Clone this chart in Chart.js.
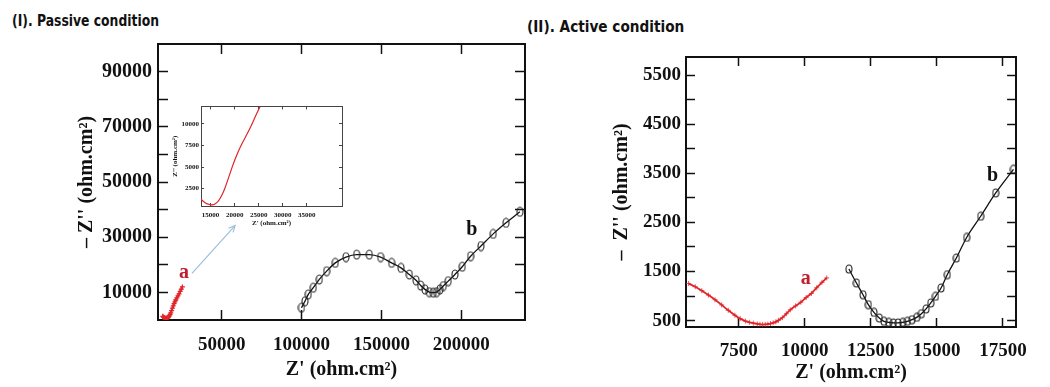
<!DOCTYPE html>
<html>
<head>
<meta charset="utf-8">
<script src="https://cdn.jsdelivr.net/npm/chart.js@4.4.1/dist/chart.umd.min.js"></script>
<style>
  html, body { margin: 0; padding: 0; background: #fff; }
  body { width: 1050px; height: 387px; position: relative; overflow: hidden; }
  canvas { position: absolute; }
  #left { left: 0; top: 0; }
  #right { left: 540px; top: 0; }
  #inset { left: 160px; top: 95px; }
  .head { position: absolute; font: bold 16px "DejaVu Sans", sans-serif; color: #111; white-space: nowrap; transform-origin: 0 50%; line-height: 18px; }
</style>
</head>
<body>
<div class="head" id="h1" style="left:12px;top:12px">(I). Passive condition</div>
<div class="head" id="h2" style="left:527px;top:18px">(II). Active condition</div>
<canvas id="left" width="540" height="387"></canvas>
<canvas id="right" width="510" height="387"></canvas>
<canvas id="inset" width="190" height="140"></canvas>
<script>
const SERIF = "'Liberation Serif', 'Times New Roman', serif";

// ---- (I) passive condition ----
const passiveXTicks = [50000, 100000, 150000, 200000];
const passiveYTicks = [10000, 20000, 30000, 40000, 50000, 60000, 70000, 80000, 90000];
const passiveYLabels = [10000, 30000, 50000, 70000, 90000];

// curve a (also shown zoomed in the inset)
const aPassiveX = [13000, 13400, 13850, 14300, 14875, 15250, 15560, 15900, 16270, 16700, 17100, 17550, 18000,
  18500, 19040, 19550, 20080, 20600, 21125, 21800, 22520, 23200, 23900, 24600, 25290];
const aPassiveY = [1330, 1080, 885, 740, 664, 640, 660, 740, 885, 1150, 1505, 2000, 2610,
  3400, 4270, 5100, 5900, 6600, 7250, 8000, 8750, 9500, 10350, 11200, 12000];

// curve b
const bPassiveX = [99900, 102100, 104200, 107300, 111100, 115700, 121100, 127800, 134500, 142400, 149500, 156400,
  162300, 167500, 171700, 174600, 177300, 180000, 182500, 184600, 186700, 188800, 191900, 196100,
  200700, 205900, 212400, 220100, 228100, 236800];
const bPassiveY = [4450, 6800, 9300, 11700, 14700, 17700, 20700, 22800, 23700, 23700, 22800, 20700,
  18900, 16500, 14400, 12500, 11100, 10100, 9900, 10100, 11100, 12300, 14100, 16500,
  19300, 23100, 26800, 31200, 35200, 39200];

const insetXTicks = [15000, 20000, 25000, 30000, 35000];
const insetYTicks = [2500, 5000, 7500, 10000];

// ---- (II) active condition ----
const activeXTicks = [7500, 10000, 12500, 15000, 17500];
const activeYTicks = [500, 1000, 1500, 2000, 2500, 3000, 3500, 4000, 4500, 5000, 5500];
const activeYLabels = [500, 1500, 2500, 3500, 4500, 5500];

const aActiveX = [5600, 5850, 6100, 6350, 6600, 6850, 7100, 7350, 7550, 7750, 7900, 8050, 8200, 8300, 8400, 8500,
  8600, 8700, 8800, 8900, 9000, 9150, 9300, 9450, 9650, 9850, 10050, 10250, 10450, 10650, 10830];
const aActiveY = [1255, 1190, 1110, 1020, 925, 820, 710, 610, 540, 490, 465, 448, 432, 425, 420, 422,
  430, 440, 455, 475, 505, 560, 640, 720, 800, 875, 970, 1055, 1170, 1280, 1370];

const bActiveX = [11670, 11954, 12202, 12404, 12617, 12819, 12996, 13174, 13351, 13528, 13706, 13883, 14060,
  14237, 14415, 14592, 14769, 14947, 15159, 15393, 15737, 16127, 16659, 17227, 17900];
const bActiveY = [1551, 1266, 1028, 825, 668, 553, 486, 465, 452, 452, 465, 486, 520,
  567, 642, 738, 860, 994, 1165, 1436, 1775, 2194, 2626, 3100, 3583];

const pts = (xs, ys) => xs.map((x, i) => ({ x, y: ys[i] }));

// open ellipse marker like the original plot
function ellipseMarker(w, h) {
  const c = document.createElement('canvas');
  c.width = w; c.height = h;
  const g = c.getContext('2d');
  g.strokeStyle = '#222';
  g.lineWidth = 1.1;
  g.beginPath();
  g.ellipse(w / 2, h / 2, w / 2 - 1, h / 2 - 1, 0, 0, Math.PI * 2);
  g.stroke();
  return c;
}

function mkScale(position, min, max, ticks, labels, o) {
  return {
    type: 'linear', position, min, max,
    afterBuildTicks: s => { s.ticks = ticks.map(v => ({ value: v })); },
    afterFit: s => { if (s.isHorizontal()) s.height = o.size; else s.width = o.size; },
    grid: { drawOnChartArea: false, drawTicks: true, tickLength: -o.tick, tickWidth: o.tickWidth || 1.5, tickColor: o.color || '#111' },
    border: { display: true, width: o.border || 2, color: o.color || '#111' },
    ticks: {
      autoSkip: false, maxRotation: 0, padding: o.pad || 0, color: '#111',
      font: { family: SERIF, size: o.font || 19, weight: 'bold' },
      callback: v => (labels && labels.includes(v)) ? String(v) : ''
    },
    title: o.title ? {
      display: true, text: o.title, color: '#111',
      font: { family: SERIF, size: o.titleSize || 20, weight: 'bold' },
      padding: o.titlePad
    } : { display: false }
  };
}

const notesPlugin = {
  id: 'notes',
  afterDatasetsDraw(chart, args, opts) {
    const { ctx, scales } = chart;
    const x = scales.x, y = scales.y;
    ctx.save();
    (opts.arrows || []).forEach(a => {
      const x0 = x.getPixelForValue(a.from[0]), y0 = y.getPixelForValue(a.from[1]);
      const x1 = x.getPixelForValue(a.to[0]), y1 = y.getPixelForValue(a.to[1]);
      ctx.strokeStyle = a.color; ctx.lineWidth = 1.2;
      ctx.beginPath(); ctx.moveTo(x0, y0); ctx.lineTo(x1, y1); ctx.stroke();
      const ang = Math.atan2(y1 - y0, x1 - x0);
      ctx.beginPath();
      ctx.moveTo(x1 - 7 * Math.cos(ang - 0.45), y1 - 7 * Math.sin(ang - 0.45));
      ctx.lineTo(x1, y1);
      ctx.lineTo(x1 - 7 * Math.cos(ang + 0.45), y1 - 7 * Math.sin(ang + 0.45));
      ctx.stroke();
    });
    (opts.labels || []).forEach(l => {
      ctx.font = `bold ${l.size}px ${SERIF}`;
      ctx.fillStyle = l.color;
      ctx.textAlign = 'center';
      ctx.textBaseline = 'middle';
      ctx.fillText(l.text, x.getPixelForValue(l.x), y.getPixelForValue(l.y));
    });
    ctx.restore();
  }
};

const whiteArea = {
  id: 'whiteArea',
  beforeDraw(chart) {
    const { ctx, chartArea: a } = chart;
    ctx.save(); ctx.fillStyle = '#fff';
    ctx.fillRect(a.left, a.top, a.right - a.left, a.bottom - a.top);
    ctx.restore();
  }
};

Chart.defaults.animation = false;

const RED = '#e0262b';
const LABEL_RED = '#c01f2f';

// (I) main chart
new Chart(document.getElementById('left'), {
  type: 'scatter',
  data: {
    datasets: [
      {
        data: pts(aPassiveX, aPassiveY), showLine: true, borderColor: RED, backgroundColor: RED,
        borderWidth: 2, pointStyle: 'cross', pointRadius: 2.5, pointBorderWidth: 1.3, cubicInterpolationMode: 'monotone'
      },
      {
        data: pts(bPassiveX, bPassiveY), showLine: true, borderColor: '#111', borderWidth: 1.3,
        pointStyle: ellipseMarker(8, 11), cubicInterpolationMode: 'monotone'
      }
    ]
  },
  options: {
    responsive: false,
    layout: { padding: { top: 44, right: 15, bottom: 0, left: 0 } },
    plugins: {
      legend: { display: false }, tooltip: { enabled: false },
      notes: {
        labels: [
          { text: 'a', x: 26300, y: 17230, color: LABEL_RED, size: 20 },
          { text: 'b', x: 206600, y: 32800, color: '#111', size: 20 }
        ],
        arrows: [{ from: [31300, 16870], to: [58300, 34200], color: '#9cc0da' }]
      }
    },
    scales: {
      x: mkScale('bottom', 10000, 240000, passiveXTicks, passiveXTicks,
        { size: 67, tick: 10, pad: 24, title: "Z' (ohm.cm²)", titlePad: { top: 0, bottom: 5 } }),
      x2: mkScale('top', 10000, 240000, passiveXTicks, null, { size: 0, tick: 10 }),
      y: mkScale('left', 0, 100000, passiveYTicks, passiveYLabels,
        { size: 158, tick: 10, pad: 16, font: 20, title: "– Z'' (ohm.cm²)", titlePad: { top: 75, bottom: 0 } }),
      y2: mkScale('right', 0, 100000, passiveYTicks, null, { size: 0, tick: 10 })
    }
  },
  plugins: [notesPlugin]
});

// (I) inset: zoom on curve a
new Chart(document.getElementById('inset'), {
  type: 'scatter',
  data: {
    datasets: [{
      data: pts(aPassiveX, aPassiveY), showLine: true, borderColor: RED, borderWidth: 1.2,
      pointRadius: 0, cubicInterpolationMode: 'monotone'
    }]
  },
  options: {
    responsive: false,
    layout: { padding: { top: 7, right: 8, bottom: 0, left: 0 } },
    plugins: { legend: { display: false }, tooltip: { enabled: false } },
    scales: {
      x: mkScale('bottom', 13000, 42300, insetXTicks, insetXTicks,
        { size: 29, tick: 3, pad: 8, font: 7, border: 1, tickWidth: 1, color: '#444',
          title: "Z' (ohm.cm²)", titleSize: 7, titlePad: { top: 0, bottom: 8 } }),
      x2: mkScale('top', 13000, 42300, insetXTicks, null, { size: 0, tick: 3, border: 1, tickWidth: 1, color: '#444' }),
      y: mkScale('left', 500, 12000, insetYTicks, insetYTicks,
        { size: 41, tick: 3, pad: 5, font: 7, border: 1, tickWidth: 1, color: '#444',
          title: "Z'' (ohm.cm²)", titleSize: 7, titlePad: { top: 11, bottom: 0 } }),
      y2: mkScale('right', 500, 12000, insetYTicks, null, { size: 0, tick: 3, border: 1, tickWidth: 1, color: '#444' })
    }
  },
  plugins: [whiteArea]
});

// (II) active condition
new Chart(document.getElementById('right'), {
  type: 'scatter',
  data: {
    datasets: [
      {
        data: pts(aActiveX, aActiveY), showLine: true, borderColor: RED, backgroundColor: RED,
        borderWidth: 1.8, pointStyle: 'cross', pointRadius: 2.5, pointBorderWidth: 0.8, cubicInterpolationMode: 'monotone'
      },
      {
        data: pts(bActiveX, bActiveY), showLine: true, borderColor: '#111', borderWidth: 1.3,
        pointStyle: ellipseMarker(8, 10), cubicInterpolationMode: 'monotone'
      }
    ]
  },
  options: {
    responsive: false,
    layout: { padding: { top: 57, right: 12, bottom: 0, left: 0 } },
    plugins: {
      legend: { display: false }, tooltip: { enabled: false },
      notes: {
        labels: [
          { text: 'a', x: 10030, y: 1354, color: LABEL_RED, size: 20 },
          { text: 'b', x: 17110, y: 3448, color: '#111', size: 20 }
        ]
      }
    },
    scales: {
      x: mkScale('bottom', 5500, 18000, activeXTicks, activeXTicks,
        { size: 60, tick: 9, pad: 22, title: "Z' (ohm.cm²)", titlePad: { top: 0, bottom: 2 } }),
      x2: mkScale('top', 5500, 18000, activeXTicks, null, { size: 0, tick: 9 }),
      y: mkScale('left', 370, 5870, activeYTicks, activeYLabels,
        { size: 146, tick: 9, pad: 14, title: "–  Z'' (ohm.cm²)", titlePad: { top: 70, bottom: 0 } }),
      y2: mkScale('right', 370, 5870, activeYTicks, null, { size: 0, tick: 9 })
    }
  },
  plugins: [notesPlugin]
});

// squeeze headings to the width they have in the figure
[['h1', 147], ['h2', 157]].forEach(([id, w]) => {
  const el = document.getElementById(id);
  el.style.transform = `scaleX(${w / el.offsetWidth})`;
});
</script>
</body>
</html>
